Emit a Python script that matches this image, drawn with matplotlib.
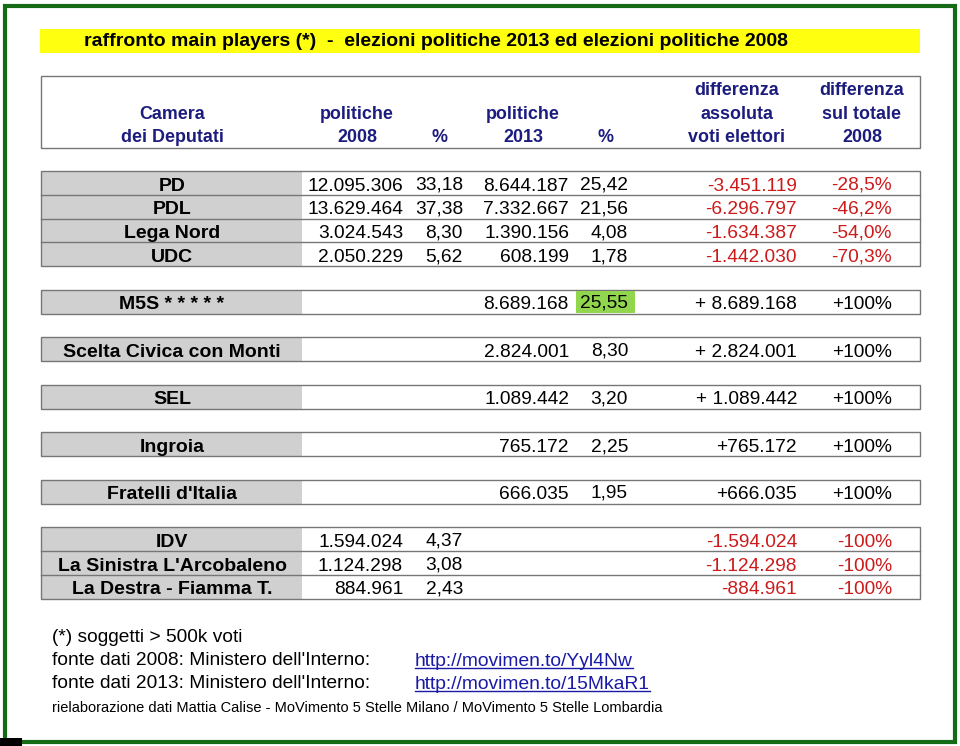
import matplotlib.pyplot as plt
from matplotlib.patches import Rectangle

plt.rcParams['font.family'] = ['Liberation Sans', 'DejaVu Sans']

# data
title = "raffronto main players (*)  -  elezioni politiche 2013 ed elezioni politiche 2008"
parties = ["PD", "PDL", "Lega Nord", "UDC", "M5S * * * * *", "Scelta Civica con Monti", "SEL",
           "Ingroia", "Fratelli d'Italia", "IDV", "La Sinistra L'Arcobaleno", "La Destra - Fiamma T."]
votes_2008 = [12095306, 13629464, 3024543, 2050229, None, None, None, None, None, 1594024, 1124298, 884961]
pct_2008 = [33.18, 37.38, 8.30, 5.62, None, None, None, None, None, 4.37, 3.08, 2.43]
votes_2013 = [8644187, 7332667, 1390156, 608199, 8689168, 2824001, 1089442, 765172, 666035, None, None, None]
pct_2013 = [25.42, 21.56, 4.08, 1.78, 25.55, 8.30, 3.20, 2.25, 1.95, None, None, None]
diff_abs = [-3451119, -6296797, -1634387, -1442030, 8689168, 2824001, 1089442, 765172, 666035,
            -1594024, -1124298, -884961]
diff_pct = [-28.5, -46.2, -54.0, -70.3, 100, 100, 100, 100, 100, -100, -100, -100]
highlight = 4  # M5S 2013 %

headers = [("Camera\ndei Deputati", 172), ("politiche\n2008", 357), ("%", 440),
           ("politiche\n2013", 523), ("%", 606),
           ("differenza\nassoluta\nvoti elettori", 737), ("differenza\nsul totale\n2008", 862)]
footer = ["(*) soggetti > 500k voti",
          "fonte dati 2008: Ministero dell'Interno:",
          "fonte dati 2013: Ministero dell'Interno:"]
links = ["http://movimen.to/Yyl4Nw", "http://movimen.to/15MkaR1"]
credit = "rielaborazione dati Mattia Calise - MoVimento 5 Stelle Milano / MoVimento 5 Stelle Lombardia"

# layout: table rows on a grid, groups separated by an empty row
row_slot = [0, 1, 2, 3, 5, 7, 9, 11, 13, 15, 16, 17]
groups = [(0, 4), (5, 1), (7, 1), (9, 1), (11, 1), (13, 1), (15, 3)]
top0, rh = 171, 23.75
x_left, x_lab, x_right = 41, 302, 920


def fmt_int(v):
    return f"{abs(v):,}".replace(",", ".")


def fmt_pct(v):
    return f"{v:.2f}".replace(".", ",")


def fmt_diff(v):
    if v < 0:
        return "-" + fmt_int(v)
    return ("+ " if v >= 1e6 else "+") + fmt_int(v)


def fmt_dpct(v):
    if abs(v) == 100:
        return f"{v:+.0f}%"
    return f"{v:.1f}%".replace(".", ",")


fig = plt.figure(figsize=(9.6, 7.46), dpi=100)
ax = fig.add_axes([0, 0, 1, 1])
ax.set_xlim(0, 960)
ax.set_ylim(746, 0)
ax.axis('off')

gray_line = '#767676'
navy = '#1c1c7e'
red = '#cc1a1a'


def num(x, y, s, color='black'):
    # strings with a comma come out a pixel low in agg
    if ',' in s:
        y -= 1
    ax.text(x, y, s, fontsize=13.8, ha='right', va='baseline', color=color)


# outer frame
ax.add_patch(Rectangle((5, 5.5), 950, 736, fill=False, ec='#156a15', lw=3.0))
ax.add_patch(Rectangle((0, 738), 22, 8, fc='black', ec='none'))

# title bar
ax.add_patch(Rectangle((40, 29), 880, 24, fc='#ffff10', ec='none'))
ax.text(84, 46.5, title, fontsize=14, fontweight='bold', color='black', va='baseline')

# header box
ax.add_patch(Rectangle((x_left, 76), x_right - x_left, 72, fill=False, ec=gray_line, lw=1))
for txt, x in headers:
    lines = txt.split("\n")
    for k, line in enumerate(lines):
        y = 142 - 23.3 * (len(lines) - 1 - k)
        ax.text(x, y, line, fontsize=12.9, fontweight='bold', color=navy, ha='center', va='baseline')

# group boxes
for start, n in groups:
    y0 = top0 + start * rh
    ax.add_patch(Rectangle((x_left, y0), x_lab - x_left, n * rh, fc='#d0d0d0', ec='none'))
    ax.add_patch(Rectangle((x_left, y0), x_right - x_left, n * rh, fill=False, ec=gray_line, lw=1))
    for k in range(1, n):
        ax.plot([x_left, x_right], [y0 + k * rh] * 2, color=gray_line, lw=1)

# rows
for i, name in enumerate(parties):
    y0 = top0 + row_slot[i] * rh
    yb = round(y0 + 19.7)
    ax.text(172, yb, name, fontsize=14, fontweight='bold', ha='center', va='baseline')
    if i == highlight:
        ax.add_patch(Rectangle((576, y0 + 1), 59, rh - 2, fc='#92d64e', ec='none'))
    if votes_2008[i] is not None:
        num(403, yb, fmt_int(votes_2008[i]))
        num(463, yb, fmt_pct(pct_2008[i]))
    if votes_2013[i] is not None:
        num(569, yb, fmt_int(votes_2013[i]))
        num(628, yb, fmt_pct(pct_2013[i]))
    col = red if diff_abs[i] < 0 else 'black'
    num(797, yb, fmt_diff(diff_abs[i]), col)
    num(892, yb, fmt_dpct(diff_pct[i]), col)

# footer
for k, line in enumerate(footer):
    ax.text(52, 641.7 + 23.3 * k, line, fontsize=13.8, va='baseline')
fig.canvas.draw()
for k, url in enumerate(links):
    yb = 665.7 + 23.3 * k
    t = ax.text(415, yb, url, fontsize=13.9, va='baseline', color='#1a1aa8')
    bb = t.get_window_extent(renderer=fig.canvas.get_renderer())
    x0, x1 = ax.transData.inverted().transform([[bb.x0, 0], [bb.x1, 0]])[:, 0]
    ax.plot([x0, x1], [yb + 2.2, yb + 2.2], color='#1a1aa8', lw=1)
ax.text(52, 712.3, credit, fontsize=10.5, va='baseline')

plt.savefig('out.png', dpi=100)
